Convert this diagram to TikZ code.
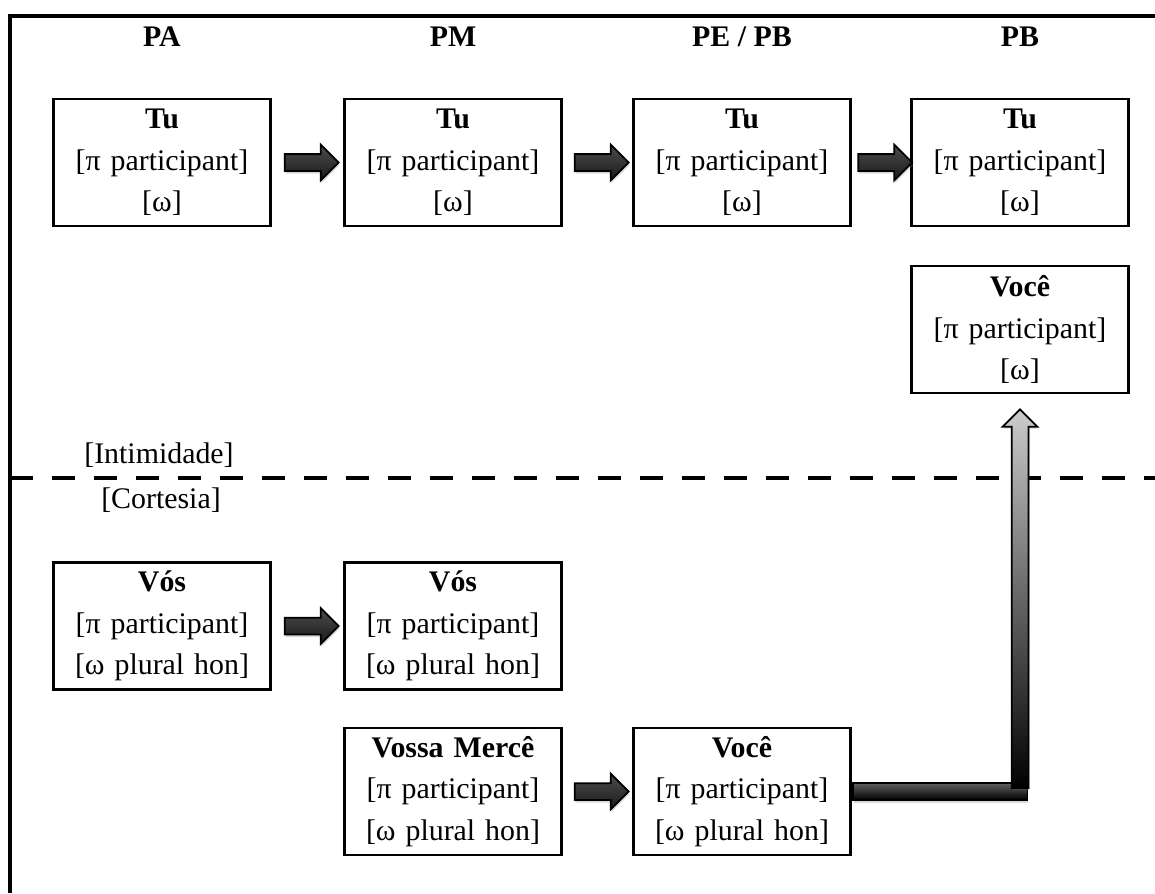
\documentclass[tikz,border=0pt]{standalone}
\usepackage{fontspec}
\setmainfont{Liberation Serif}
\usetikzlibrary{positioning, calc, shapes.arrows, shadows}

\tikzset{
  form/.style = {draw, line width=1.4pt, minimum width=4.34cm, minimum height=2.54cm,
    text width=4.2cm, align=center, inner sep=0pt},
  period/.style = {font=\fontsize{17}{23.5}\selectfont\bfseries},
  fatarrow/.style = {single arrow, draw, line width=1pt, inner sep=0.15cm,
    minimum width=0.68cm, minimum height=1.08cm,
    single arrow head extend=0.19cm, single arrow head indent=0pt,
    top color=black!70, middle color=gray!55, bottom color=black!90,
    drop shadow={shadow xshift=0.4pt, shadow yshift=-1.6pt, opacity=0.3}},
  uparrow/.style = {single arrow, draw, line width=1pt, inner sep=0.15cm,
    shape border rotate=90, minimum width=0.66cm,
    single arrow head extend=0.18cm, single arrow head indent=0pt,
    top color=gray!40, bottom color=black,
    drop shadow={shadow xshift=0.8pt, shadow yshift=-1pt, opacity=0.3}},
  bar/.style = {draw, line width=1pt, top color=gray!75!black, middle color=gray!55,
    bottom color=black, drop shadow={shadow xshift=0.4pt, shadow yshift=-1.6pt, opacity=0.3}}
}

\begin{document}
\begin{tikzpicture} [node distance = 5.8cm, on grid, font=\fontsize{17}{23.5}\selectfont]

\useasboundingbox (0,0) rectangle (23.1,-17.86);

% frame and border Intimidade / Cortesia
\draw [line width=0.08cm] (23.1,-0.32) -- (0.19,-0.32) -- (0.19,-17.86);
\draw [line width=0.08cm, dash pattern=on 0.46cm off 0.38cm] (0.19,-9.56) -- (23.1,-9.56);
\node (intim) at (3.18,-9.10) {[Intimidade]};
\node (cort)  at (3.22,-10.0) {[Cortesia]};

% Tu
\node (tuA) [form] at (3.24,-3.25) {\textbf{Tu}\\{}[π participant]\\{}[ω]};
\node (tuM) [form, right = 5.82cm of tuA] {\textbf{Tu}\\{}[π participant]\\{}[ω]};
\node (tuE) [form, right = 5.78cm of tuM] {\textbf{Tu}\\{}[π participant]\\{}[ω]};
\node (tuB) [form, right = 5.56cm of tuE] {\textbf{Tu}\\{}[π participant]\\{}[ω]};
\node (voceB) [form, below = 3.34cm of tuB] {\textbf{Você}\\{}[π participant]\\{}[ω]};

% periods
\node (pa) [period, above = 2.51cm of tuA] {PA};
\node (pm) [period, above = 2.51cm of tuM] {PM};
\node (pe) [period, above = 2.51cm of tuE] {PE / PB};
\node (pb) [period, above = 2.51cm of tuB] {PB};

% Vos, Vossa Merce
\node (vosA) [form] at (3.24,-12.52) {\textbf{Vós}\\{}[π participant]\\{}[ω plural hon]};
\node (vosM) [form, right = 5.82cm of vosA] {\textbf{Vós}\\{}[π participant]\\{}[ω plural hon]};
\node (vossaM) [form, below = 3.31cm of vosM] {\textbf{Vossa Mercê}\\{}[π participant]\\{}[ω plural hon]};
\node (voceE) [form, right = 5.78cm of vossaM] {\textbf{Você}\\{}[π participant]\\{}[ω plural hon]};

\path
	(tuA) -- node [fatarrow] {} (tuM)
	(tuM) -- node [fatarrow] {} (tuE)
	(tuE) -- node [fatarrow] {} (tuB)
	(vosA) -- node [fatarrow] {} (vosM)
	(vossaM) -- node [fatarrow] {} (voceE);

% Voce (Cortesia) -> Voce (Intimidade)
\coordinate (turn) at (voceB |- voceE);
\coordinate (uptip) at ($(voceB.south)+(0,-0.4)$);
\draw [bar] ($(voceE.east)+(0.03,0.17)$) rectangle ($(turn)+(0.15,-0.17)$);
\node (up) [uparrow, minimum height=7.57cm] at ($(turn)!0.5!(uptip)$) {};
\end{tikzpicture}
\end{document}
